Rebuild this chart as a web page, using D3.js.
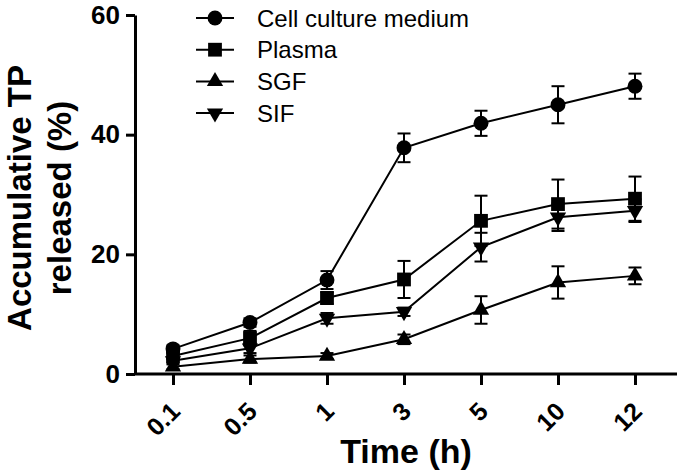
<!DOCTYPE html>
<html>
<head>
<meta charset="utf-8">
<script src="https://cdn.jsdelivr.net/npm/d3@7"></script>
<style>
  body { margin: 0; background: #fff; }
  svg { font-family: "Liberation Sans", Arial, sans-serif; }
</style>
</head>
<body>
<div id="chart"></div>
<script>
var times = ["0.1", "0.5", "1", "3", "5", "10", "12"];
var yTicks = [0, 20, 40, 60];

var cellMean = [4.2, 8.6, 15.7, 37.8, 41.9, 45.0, 48.1];
var cellErr = [0.6, 0.7, 1.5, 2.4, 2.1, 3.1, 2.1];
var plasmaMean = [3.0, 6.0, 12.7, 15.8, 25.6, 28.4, 29.3];
var plasmaErr = [0.5, 1.2, 1.0, 3.1, 4.2, 4.1, 3.7];
var sgfMean = [1.2, 2.5, 3.0, 5.8, 10.7, 15.3, 16.4];
var sgfErr = [0.4, 0.6, 0.5, 0.8, 2.3, 2.7, 1.4];
var sifMean = [2.2, 4.3, 9.3, 10.4, 21.2, 26.2, 27.3];
var sifErr = [0.4, 0.8, 0.9, 0.7, 2.4, 2.3, 1.9];

var series = [
  {name: 'Cell culture medium', mean: cellMean, err: cellErr, shape: d3.symbolCircle, size: 175, rot: 0},
  {name: 'Plasma', mean: plasmaMean, err: plasmaErr, shape: d3.symbolSquare, size: 190, rot: 0},
  {name: 'SGF', mean: sgfMean, err: sgfErr, shape: d3.symbolTriangle, size: 115, rot: 0},
  {name: 'SIF', mean: sifMean, err: sifErr, shape: d3.symbolTriangle, size: 115, rot: 180}
];

var width = 680, height = 475;
var svg = d3.select('#chart').append('svg')
            .attr('width', width)
            .attr('height', height);

var x = d3.scalePoint().domain(times).range([173, 635]);
var y = d3.scaleLinear().domain([0, 60]).range([374, 15]);

// axes
var xAxis = svg.append('g')
               .attr('transform', 'translate(0,374)')
               .call(d3.axisBottom(x).tickSize(11).tickSizeOuter(0));
xAxis.select('.domain').remove();
xAxis.append('line')
     .attr('x1', 134).attr('x2', 677)
     .attr('stroke', '#000').attr('stroke-width', 3);
xAxis.selectAll('.tick line').attr('stroke-width', 3);
xAxis.selectAll('.tick text')
     .attr('font-size', 25)
     .attr('font-weight', 'bold')
     .attr('fill', '#000')
     .attr('text-anchor', 'end')
     .attr('x', 0).attr('y', 0).attr('dy', 0)
     .attr('transform', 'translate(8,39) rotate(-45)');

var yAxis = svg.append('g')
               .attr('transform', 'translate(135,0)')
               .call(d3.axisLeft(y).tickValues(yTicks).tickSize(9).tickSizeOuter(0).tickPadding(6));
yAxis.select('.domain').attr('stroke-width', 3);
yAxis.selectAll('.tick line').attr('stroke-width', 3);
yAxis.selectAll('.tick text')
     .attr('font-size', 26)
     .attr('font-weight', 'bold')
     .attr('fill', '#000');

// axis titles
svg.append('text')
   .attr('x', 406).attr('y', 463)
   .attr('text-anchor', 'middle')
   .attr('font-size', 34).attr('font-weight', 'bold')
   .text('Time (h)');

var yTitle = svg.append('text')
   .attr('transform', 'translate(31,198) rotate(-90)')
   .attr('text-anchor', 'middle')
   .attr('font-size', 33).attr('font-weight', 'bold');
yTitle.append('tspan').attr('x', 0).attr('dy', 0).text('Accumulative TP');
yTitle.append('tspan').attr('x', 0).attr('dy', 40).text('released (%)');

// lines, error bars, markers
var line = d3.line()
             .x(function(d, i){ return x(times[i]); })
             .y(function(d){ return y(d); });

series.forEach(function(s){
  var g = svg.append('g');
  g.append('path')
   .attr('d', line(s.mean))
   .attr('fill', 'none')
   .attr('stroke', '#000')
   .attr('stroke-width', 2);

  var eb = g.selectAll('.eb')
            .data(s.mean)
            .enter().append('g')
            .attr('class', 'eb');
  eb.append('line')
    .attr('x1', function(d, i){ return x(times[i]); })
    .attr('x2', function(d, i){ return x(times[i]); })
    .attr('y1', function(d, i){ return y(d + s.err[i]); })
    .attr('y2', function(d, i){ return y(d - s.err[i]); })
    .attr('stroke', '#000').attr('stroke-width', 2);
  [1, -1].forEach(function(sign){
    eb.append('line')
      .attr('x1', function(d, i){ return x(times[i]) - 6.5; })
      .attr('x2', function(d, i){ return x(times[i]) + 6.5; })
      .attr('y1', function(d, i){ return y(d + sign * s.err[i]); })
      .attr('y2', function(d, i){ return y(d + sign * s.err[i]); })
      .attr('stroke', '#000').attr('stroke-width', 2);
  });

  g.selectAll('.mk')
   .data(s.mean)
   .enter().append('path')
   .attr('class', 'mk')
   .attr('d', d3.symbol().type(s.shape).size(s.size))
   .attr('transform', function(d, i){
     return 'translate(' + x(times[i]) + ',' + y(d) + ') rotate(' + s.rot + ')';
   })
   .attr('fill', '#000');
});

// legend
var legend = svg.selectAll('.legend')
                .data(series)
                .enter().append('g')
                .attr('class', 'legend')
                .attr('transform', function(d, i){ return 'translate(0,' + (18 + i * 31.7) + ')'; });
legend.append('line')
      .attr('x1', 196).attr('x2', 234)
      .attr('stroke', '#000').attr('stroke-width', 2);
legend.append('path')
      .attr('d', function(d){ return d3.symbol().type(d.shape).size(d.size)(); })
      .attr('transform', function(d){ return 'translate(215,0) rotate(' + d.rot + ')'; })
      .attr('fill', '#000');
legend.append('text')
      .attr('x', 257).attr('dy', '0.36em')
      .attr('font-size', 24)
      .text(function(d){ return d.name; });
</script>
</body>
</html>
